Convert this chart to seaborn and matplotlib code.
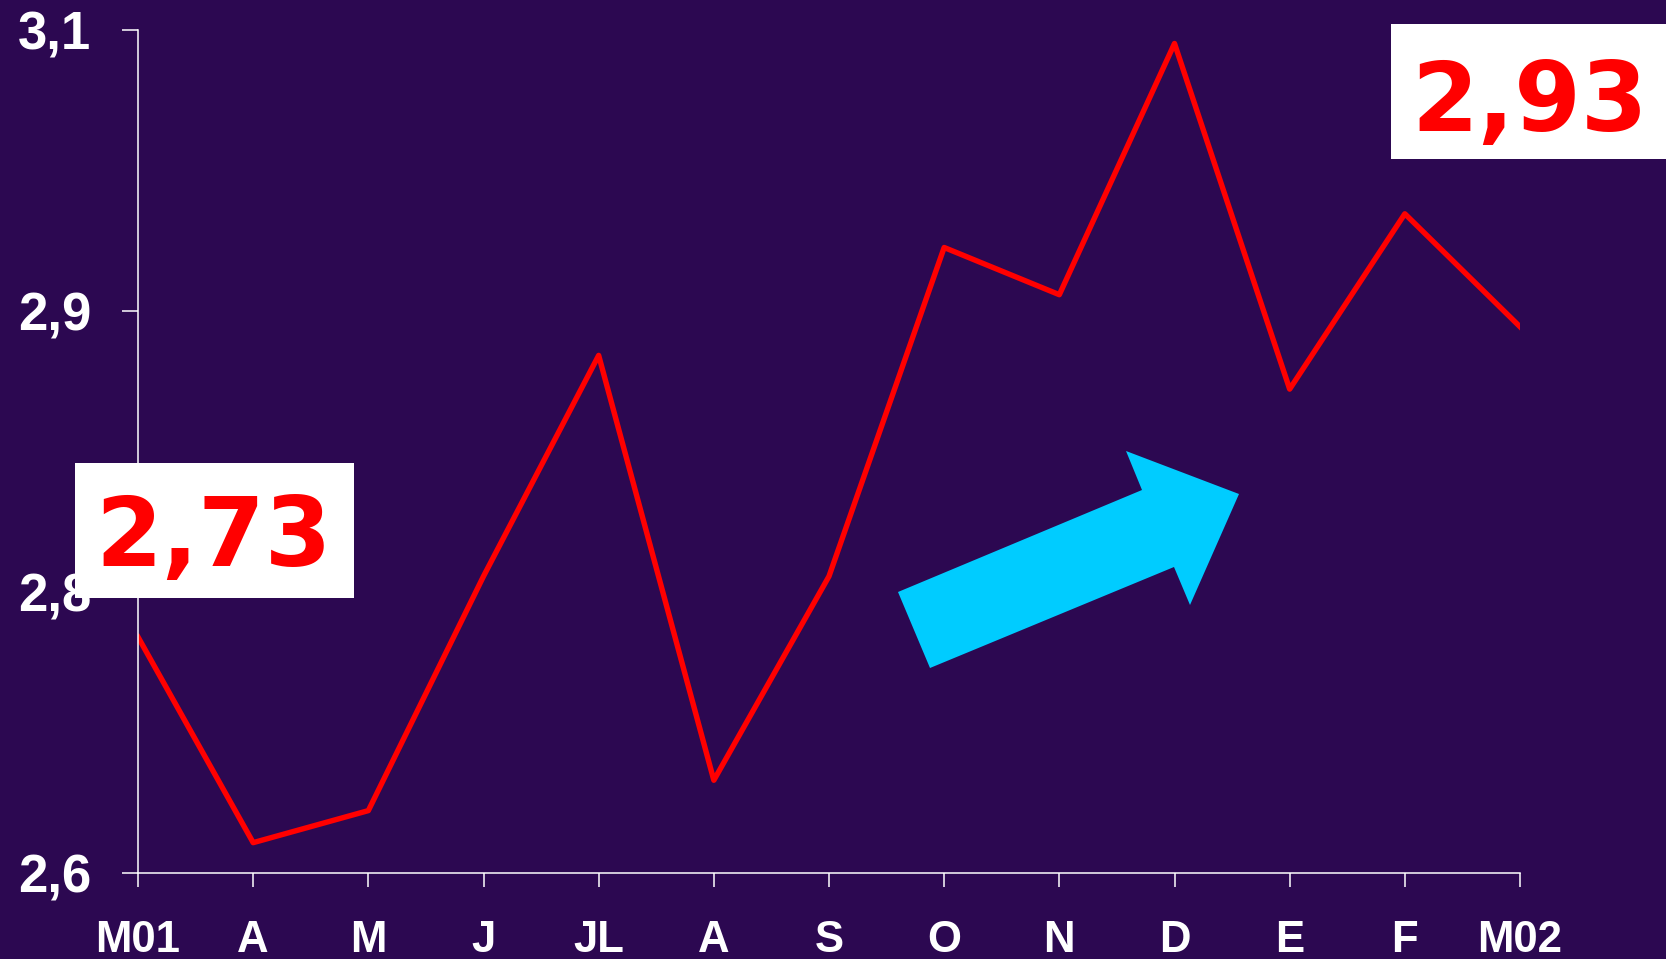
import numpy as np
import pandas as pd
import seaborn as sns
from matplotlib import pyplot as plt
from matplotlib.patches import Polygon, Rectangle

# monthly values
months = ["M01", "A", "M", "J", "JL", "A", "S", "O", "N", "D", "E", "F", "M02"]
values = [2.740, 2.618, 2.637, 2.776, 2.907, 2.655, 2.776,
          2.971, 2.943, 3.092, 2.887, 2.991, 2.924]
first_label = "2,73"
last_label = "2,93"

BG = "#2C0851"
W, H = 1666, 959

df = pd.DataFrame({"pos": range(len(months)), "value": values})

fig = plt.figure(figsize=(W / 100, H / 100), dpi=100)
fig.patch.set_facecolor(BG)
ax = fig.add_axes([138 / W, 1 - 873 / H, (1520 - 138) / W, (873 - 30) / H])
ax.set_facecolor(BG)

sns.lineplot(data=df, x="pos", y="value", color="#FF0000", linewidth=3.9, ax=ax)

ax.set_xlim(0, len(months) - 1)
ax.set_ylim(2.6, 3.1)
yt = np.linspace(2.6, 3.1, 4)
ax.set_yticks(yt)
ax.set_yticklabels([f"{v:.1f}".replace(".", ",") for v in yt],
                   fontsize=38, fontweight="bold", family="Liberation Sans", color="white")
ax.set_xticks(range(len(months)))
ax.set_xticklabels(months, fontsize=31.5, fontweight="bold", family="Liberation Sans", color="white")
ax.tick_params(axis="y", length=11.5, width=1.1, color="white", pad=22)
ax.tick_params(axis="x", length=10, width=1.1, color="white", pad=24)
ax.set_xlabel("")
ax.set_ylabel("")
for s in ["top", "right"]:
    ax.spines[s].set_visible(False)
for s in ["left", "bottom"]:
    ax.spines[s].set_color("white")
    ax.spines[s].set_linewidth(1.1)


def fx(x):
    return x / W


def fy(y):
    return 1 - y / H


# trend arrow
arrow_pts = [(930, 668), (898, 592), (1142, 490), (1126, 451),
             (1239, 494), (1190, 605), (1174, 567)]
fig.patches.append(Polygon([(fx(x), fy(y)) for x, y in arrow_pts], closed=True,
                           facecolor="#00CCFF", edgecolor="none",
                           transform=fig.transFigure, zorder=5))

# value boxes
for (x0, y0, x1, y1), label, cx, dy in [((75, 463, 354, 598), first_label, 214, 9),
                                        ((1391, 24, 1680, 159), last_label, 1530, 13)]:
    fig.patches.append(Rectangle((fx(x0), fy(y1)), fx(x1 - x0), (y1 - y0) / H,
                                 facecolor="white", edgecolor="none",
                                 transform=fig.transFigure, zorder=6))
    fig.text(fx(cx), fy((y0 + y1) / 2 + dy), label, color="#FF0000", fontsize=69,
             fontweight="bold", family="DejaVu Sans", ha="center", va="center", zorder=7)

fig.savefig("out.png", dpi=100, facecolor=BG)
